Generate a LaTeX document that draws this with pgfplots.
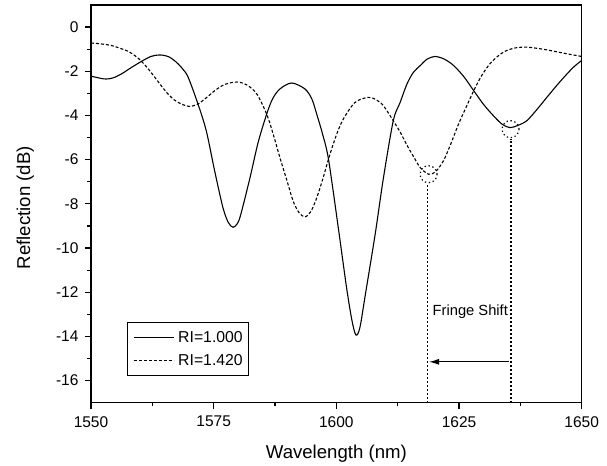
\documentclass[border=0pt]{standalone}
\usepackage{fontspec}
\setmainfont{Liberation Sans}
\usepackage{pgfplots}
\pgfplotsset{compat=1.18}
\usetikzlibrary{arrows.meta}

\begin{document}
\begin{tikzpicture}
\begin{axis}[
  scale only axis, width=490.7bp, height=397.7bp,
  xmin=1550, xmax=1650, ymin=-17, ymax=1,
  xtick={1550,1575,1600,1625,1650},
  ytick={-16,-14,-12,-10,-8,-6,-4,-2,0},
  minor x tick num=1, minor y tick num=1,
  tick align=outside, xtick pos=bottom, ytick pos=left,
  major tick length=6bp, minor tick length=3.5bp,
  axis line style={line width=1.5bp},
  every tick/.style={black, line width=1.2bp},
  /pgf/number format/assume math mode=true,
  /pgf/number format/set thousands separator={},
  tick label style={font=\fontsize{15.5bp}{18bp}\selectfont},
  yticklabel style={xshift=-3bp},
  xticklabel style={yshift=-4bp},
  xlabel={Wavelength (nm)},
  ylabel={Reflection (dB)},
  xlabel style={at={(axis description cs:0.5,-0.1398)}, anchor=base, inner sep=0pt, font=\fontsize{18.6bp}{22bp}\selectfont},
  ylabel style={at={(axis description cs:-0.1243,0.49)}, anchor=base, inner sep=0pt, font=\fontsize{18.6bp}{22bp}\selectfont},
  legend style={at={(rel axis cs:0.0728,0.2037)}, anchor=north west, draw=black, line width=0.8bp,
    font=\fontsize{15.8bp}{18bp}\selectfont, inner xsep=6bp, inner ysep=9bp,
    row sep=10.5bp, column sep=4bp, nodes={inner sep=0pt}},
  legend cell align=left,
  legend image code/.code={\draw[#1] (0bp,0bp) -- (40bp,0bp);},
]
\addplot[black, line width=1.1bp, smooth] coordinates {
(1550.0,-2.22) (1552.0,-2.32) (1553.1,-2.35) (1554.5,-2.30) (1556.2,-2.12)
(1558.3,-1.82) (1560.3,-1.55) (1562.2,-1.33) (1564.0,-1.26) (1565.8,-1.34)
(1567.4,-1.59) (1568.7,-1.90) (1569.8,-2.27) (1571.8,-3.48) (1573.5,-4.70)
(1575.2,-6.51) (1576.9,-8.18) (1578.0,-8.85) (1578.95,-9.06) (1579.8,-8.90)
(1580.5,-8.50) (1582.4,-6.82) (1584.05,-5.23) (1585.8,-3.94) (1587.0,-3.25)
(1588.5,-2.80) (1590.9,-2.53) (1593.6,-2.80) (1595.0,-3.25) (1596.0,-3.94)
(1597.2,-4.85) (1598.4,-5.98) (1600.4,-9.09) (1602.1,-11.82) (1603.2,-13.3)
(1604.0,-13.94) (1604.8,-13.6) (1605.9,-12.12) (1607.9,-9.39) (1609.6,-6.82)
(1611.6,-4.24) (1613.0,-3.41) (1614.4,-2.57) (1615.7,-2.05) (1617.1,-1.74)
(1618.5,-1.45) (1620.1,-1.33) (1622.0,-1.45) (1623.9,-1.74) (1626.0,-2.25)
(1628.0,-2.88) (1630.0,-3.50) (1632.0,-4.01) (1633.8,-4.40) (1635.4,-4.55)
(1637.0,-4.45) (1638.8,-4.24) (1640.8,-3.75) (1642.9,-3.18) (1645.0,-2.62)
(1647.0,-2.12) (1648.5,-1.78) (1650.0,-1.51)
};
\addlegendentry{RI=1.000}
\addplot[black, line width=1.1bp, dash pattern=on 3bp off 2bp, smooth] coordinates {
(1550.0,-0.72) (1552.0,-0.76) (1554.1,-0.83) (1555.8,-0.95) (1557.5,-1.09)
(1559.0,-1.30) (1560.3,-1.55) (1561.7,-1.90) (1563.0,-2.27) (1564.3,-2.65)
(1565.7,-3.03) (1567.0,-3.30) (1568.4,-3.48) (1570.1,-3.59) (1571.8,-3.48)
(1573.5,-3.20) (1575.2,-2.88) (1577.0,-2.62) (1578.95,-2.50) (1580.4,-2.50)
(1582.0,-2.65) (1583.8,-3.03) (1585.8,-3.94) (1587.2,-4.90) (1588.5,-5.91)
(1590.0,-7.00) (1591.2,-7.88) (1592.4,-8.40) (1593.6,-8.59) (1594.8,-8.35)
(1596.0,-7.73) (1597.2,-6.90) (1598.4,-5.98) (1599.9,-4.95) (1601.4,-4.17)
(1603.8,-3.41) (1606.5,-3.18) (1608.2,-3.30) (1609.6,-3.56) (1611.6,-4.24)
(1613.0,-4.75) (1614.4,-5.35) (1615.7,-5.85) (1617.1,-6.36) (1618.8,-6.66)
(1620.2,-6.55) (1621.8,-6.06) (1623.3,-5.30) (1624.9,-4.39) (1626.5,-3.60)
(1628.0,-2.88) (1629.6,-2.20) (1631.3,-1.66) (1633.0,-1.30) (1634.7,-1.06)
(1636.8,-0.93) (1638.8,-0.91) (1641.2,-0.97) (1643.6,-1.06) (1646.8,-1.20)
(1650.0,-1.33)
};
\addlegendentry{RI=1.420}
\addplot[forget plot, black, only marks, mark=o, mark size=8.5bp,
  mark options={dash pattern=on 1.3bp off 2.7bp, line width=1.2bp}] coordinates {(1618.8,-6.66) (1635.5,-4.62)};
\addplot[forget plot, black, dash pattern=on 1.3bp off 2.7bp, line width=1.3bp] coordinates {(1618.6,-17) (1618.6,-7.05)};
\addplot[forget plot, black, dash pattern=on 1.3bp off 2.7bp, line width=1.3bp] coordinates {(1635.6,-17) (1635.6,-5.05)};
\addplot[forget plot, black, line width=1bp, -{Latex[length=10bp,width=6bp]}] coordinates {(1635.1,-15.15) (1618.9,-15.15)};
\node[font=\fontsize{14.7bp}{17bp}\selectfont, inner sep=0pt] at (axis cs:1627.3,-12.9) {Fringe Shift};
\end{axis}
\pgfresetboundingbox
\path ([shift={(-91bp,-63.3bp)}]current axis.south west) rectangle ([shift={(25.3bp,5bp)}]current axis.north east);
\end{tikzpicture}
\end{document}
